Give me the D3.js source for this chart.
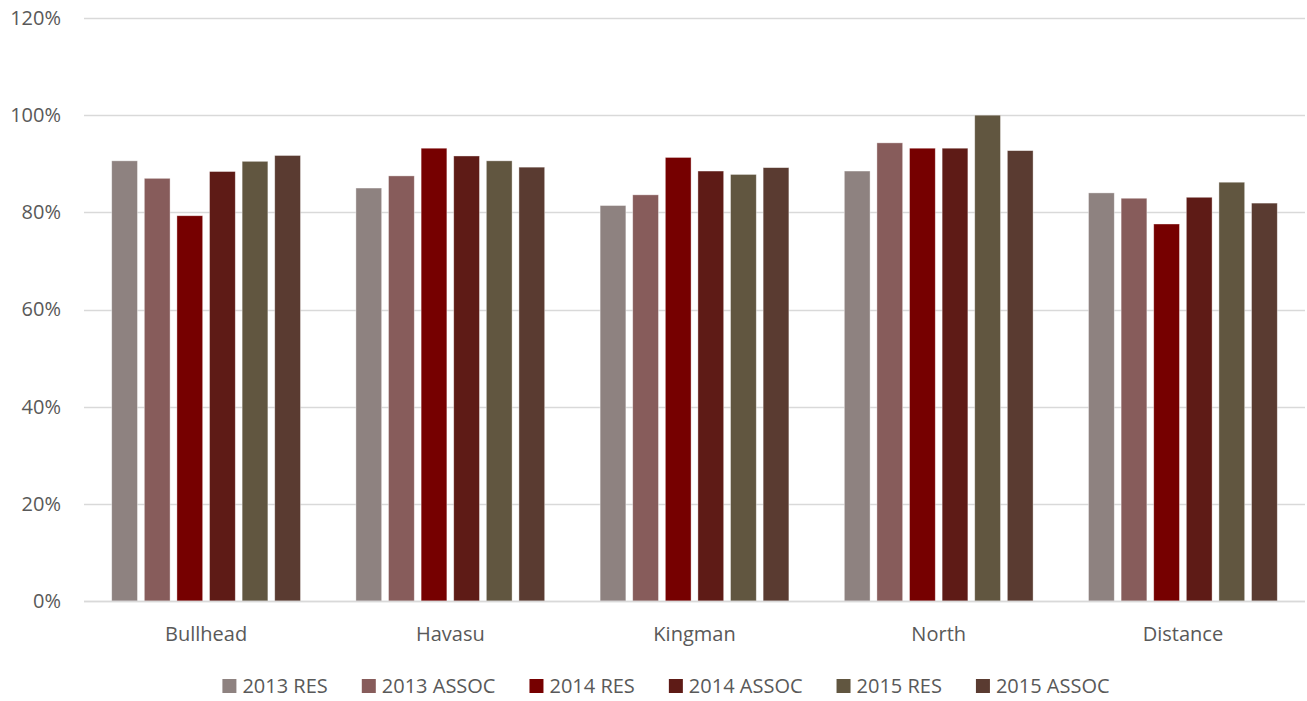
<!DOCTYPE html>
<html>
<head>
<meta charset="utf-8">
<script src="https://cdn.jsdelivr.net/npm/d3@7"></script>
<style>
  html, body { margin: 0; padding: 0; background: #fff; }
  svg { display: block; }
  text { font-family: "Open Sans", "Liberation Sans", sans-serif; fill: #595959; }
</style>
</head>
<body>
<svg id="chart" width="1307" height="701"></svg>
<script>
// Survey regions along the x axis
const categories = ["Bullhead", "Havasu", "Kingman", "North", "Distance"];
const seriesNames = ["2013 RES", "2013 ASSOC", "2014 RES", "2014 ASSOC", "2015 RES", "2015 ASSOC"];
const seriesColors = ["#8e8280", "#875c5b", "#760000", "#5e1b16", "#615640", "#5a3b31"];

// Percent values, one array per series, in category order
const res2013   = [90.6, 85.0, 81.4, 88.5, 84.0];
const assoc2013 = [87.0, 87.5, 83.6, 94.3, 82.9];
const res2014   = [79.3, 93.2, 91.3, 93.2, 77.6];
const assoc2014 = [88.4, 91.6, 88.5, 93.2, 83.1];
const res2015   = [90.5, 90.6, 87.8, 100.0, 86.2];
const assoc2015 = [91.7, 89.3, 89.2, 92.7, 81.9];
const seriesValues = [res2013, assoc2013, res2014, assoc2014, res2015, assoc2015];

const yTicks = [0, 20, 40, 60, 80, 100, 120];

const svg = d3.select("#chart");
const margin = { left: 84, right: 2, top: 18, bottom: 100 };
const width = 1307, height = 701;
const fontSize = 20;

const x0 = d3.scaleBand()
  .domain(categories)
  .range([margin.left, width - margin.right])
  .padding(0);

const x1 = d3.scaleBand()
  .domain(seriesNames)
  .range([0, x0.bandwidth()])
  .paddingInner(0.21)
  .paddingOuter(0.85);

const y = d3.scaleLinear()
  .domain([0, 120])
  .range([601, 18]);

// Horizontal gridlines
svg.append("g")
  .selectAll("line")
  .data(yTicks)
  .join("line")
  .attr("x1", margin.left)
  .attr("x2", width - margin.right)
  .attr("y1", d => Math.round(y(d)) + 0.5)
  .attr("y2", d => Math.round(y(d)) + 0.5)
  .attr("stroke", "#d9d9d9")
  .attr("stroke-width", 1.5);

// Y axis labels
const yAxis = d3.axisLeft(y).tickValues(yTicks).tickFormat(d => d + "%").tickSize(0).tickPadding(0);
const gy = svg.append("g").attr("transform", `translate(61,0)`).call(yAxis);
gy.select(".domain").remove();
gy.selectAll("text")
  .attr("font-family", "'Open Sans', sans-serif")
  .attr("font-size", fontSize)
  .attr("fill", "#595959");

// Bars
const groups = svg.append("g")
  .selectAll("g")
  .data(seriesNames)
  .join("g")
  .attr("fill", (d, i) => seriesColors[i]);

groups.selectAll("rect")
  .data((s, i) => categories.map((c, j) => ({ cat: c, series: s, value: seriesValues[i][j] })))
  .join("rect")
  .attr("x", d => x0(d.cat) + x1(d.series))
  .attr("width", x1.bandwidth())
  .attr("y", d => y(d.value))
  .attr("height", d => y(0) - y(d.value))
  .attr("stroke", "#ffffff")
  .attr("stroke-opacity", 0.5)
  .attr("stroke-width", 0.75);

// Baseline
svg.append("line")
  .attr("x1", margin.left).attr("x2", width - margin.right)
  .attr("y1", Math.round(y(0)) + 0.5).attr("y2", Math.round(y(0)) + 0.5)
  .attr("stroke", "#d9d9d9").attr("stroke-width", 1.5);

// Category axis
const xAxis = d3.axisBottom(x0).tickSize(0).tickPadding(0);
const gx = svg.append("g").attr("transform", `translate(0,${y(0) + 26})`).call(xAxis);
gx.select(".domain").remove();
gx.selectAll("text")
  .attr("font-family", "'Open Sans', sans-serif")
  .attr("font-size", fontSize)
  .attr("fill", "#595959");

// Legend
const legend = svg.append("g").attr("transform", "translate(0,686)");
const items = legend.selectAll("g")
  .data(seriesNames)
  .join("g");
items.append("rect")
  .attr("width", 14).attr("height", 14)
  .attr("y", -7)
  .attr("fill", (d, i) => seriesColors[i]);
items.append("text")
  .attr("x", 20)
  .attr("dy", "0.35em")
  .attr("font-size", fontSize)
  .text(d => d);

let cursor = 0;
const gap = 34;
const offsets = [];
items.each(function () {
  offsets.push(cursor);
  cursor += this.getBBox().width + gap;
});
const total = cursor - gap;
const start = 666 - total / 2;
items.attr("transform", (d, i) => `translate(${start + offsets[i]},0)`);
</script>
</body>
</html>
